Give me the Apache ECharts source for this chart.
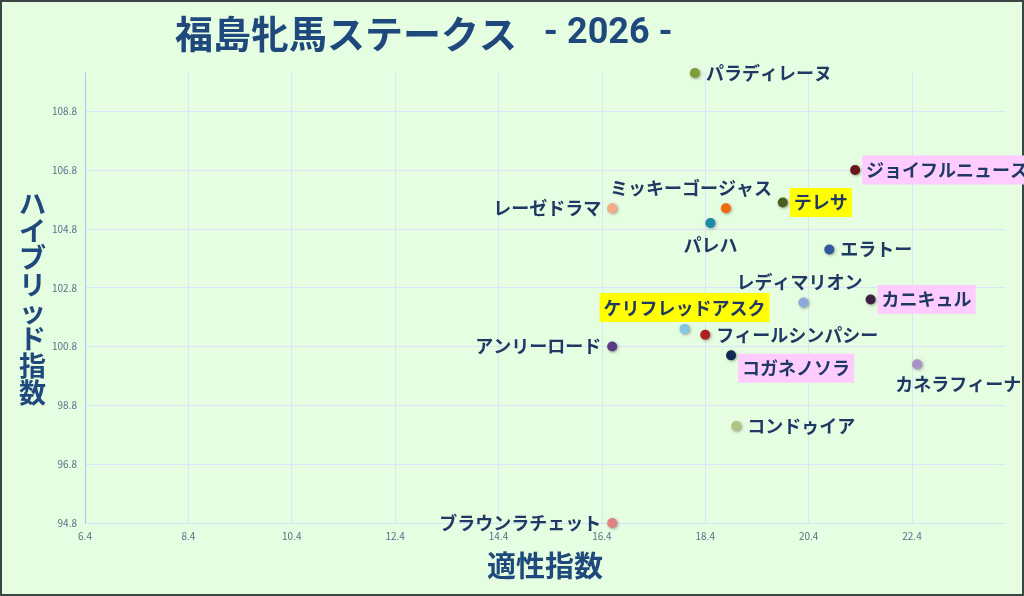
<!DOCTYPE html>
<html>
<head>
<meta charset="utf-8">
<script src="https://cdn.jsdelivr.net/npm/echarts@6/dist/echarts.min.js"></script>
<style>
  html, body { margin: 0; padding: 0; background: #e5fde0; }
  #main { width: 1024px; height: 596px; }
</style>
</head>
<body>
<div id="main"></div>
<script>
// 馬名・適性指数・ハイブリッド指数
var horses = ['パラディレーヌ', 'ジョイフルニュース', 'ミッキーゴージャス', 'レーゼドラマ', 'テレサ', 'パレハ',
    'エラトー', 'レディマリオン', 'カニキュル', 'ケリフレッドアスク', 'フィールシンパシー', 'アンリーロード',
    'コガネノソラ', 'カネラフィーナ', 'コンドゥイア', 'ブラウンラチェット'];
var tekisei = [18.2, 21.3, 18.8, 16.6, 19.9, 18.5, 20.8, 20.3, 21.6, 18.0, 18.4, 16.6, 18.9, 22.5, 19.0, 16.6];
var hybrid = [110.1, 106.8, 105.5, 105.5, 105.7, 105.0, 104.1, 102.3, 102.4, 101.4, 101.2, 100.8, 100.5, 100.2, 98.1, 94.8];
var xTicks = [6.4, 8.4, 10.4, 12.4, 14.4, 16.4, 18.4, 20.4, 22.4];
var yTicks = [94.8, 96.8, 98.8, 100.8, 102.8, 104.8, 106.8, 108.8];

// 見た目 (色・ラベル位置・ずらし・背景)
var look = {
    'パラディレーヌ': { c: '#7f9c3a', pos: 'right' },
    'ジョイフルニュース': { c: '#6a1518', pos: 'right', bg: '#ffccff' },
    'ミッキーゴージャス': { c: '#f26a0c', pos: 'top', d: [-35, 0] },
    'レーゼドラマ': { c: '#f4ab85', pos: 'left' },
    'テレサ': { c: '#4b5e22', pos: 'right', bg: '#ffff00' },
    'パレハ': { c: '#1b8aa6', pos: 'bottom', d: [0, 2] },
    'エラトー': { c: '#2f5a9e', pos: 'right' },
    'レディマリオン': { c: '#8eaadb', pos: 'top', d: [-4, 0] },
    'カニキュル': { c: '#3b2142', pos: 'right', bg: '#ffccff' },
    'ケリフレッドアスク': { c: '#84c7e0', pos: 'top', bg: '#ffff00' },
    'フィールシンパシー': { c: '#b0201e', pos: 'right' },
    'アンリーロード': { c: '#5c3a82', pos: 'left' },
    'コガネノソラ': { c: '#12294f', pos: 'right', bg: '#ffccff', d: [0, 13] },
    'カネラフィーナ': { c: '#a993c4', pos: 'bottom', d: [41, 0] },
    'コンドゥイア': { c: '#b3c383', pos: 'right' },
    'ブラウンラチェット': { c: '#e08282', pos: 'left' }
};

var points = horses.map(function (name, i) {
    var l = look[name];
    return {
        name: name,
        value: [tekisei[i], hybrid[i]],
        itemStyle: { color: l.c },
        label: {
            position: l.pos,
            backgroundColor: l.bg || 'transparent',
            padding: l.bg ? [6, 4, 5, 4] : 0,
            distance: l.bg ? 2 : 6
        }
    };
});

var chartDom = document.getElementById('main');
var myChart = echarts.init(chartDom);
var option;

option = {
    backgroundColor: '#e5fde0',
    textStyle: { fontFamily: 'Noto Sans CJK JP' },
    title: {
        text: '{a|福島牝馬ステークス}{b|   - 2026 -}',
        left: 170,
        top: 10,
        textStyle: {
            rich: {
                a: { fontSize: 38, fontWeight: 'bold', color: '#1f497d', fontFamily: 'Noto Sans CJK JP' },
                b: { fontSize: 36, fontWeight: 'bold', color: '#1f497d', fontFamily: 'Roboto' }
            }
        }
    },
    grid: { left: 85, right: 19, top: 73, bottom: 73 },
    xAxis: {
        type: 'value',
        min: 6.4,
        max: 24.2,
        interval: 2,
        name: '適性指数',
        nameLocation: 'middle',
        nameGap: 28,
        nameTextStyle: { fontSize: 29, fontWeight: 'bold', color: '#1f497d' },
        axisLine: { show: true, lineStyle: { color: '#d6e2f5', width: 1 } },
        axisTick: { show: false },
        axisLabel: {
            fontSize: 10, color: '#5b6f8c', margin: 8, showMaxLabel: false,
            formatter: function (v) { return xTicks.indexOf(+v.toFixed(1)) >= 0 ? v.toFixed(1) : ''; }
        },
        splitLine: { show: true, showMaxLine: false, lineStyle: { color: '#dbe4f7', width: 1 } }
    },
    yAxis: {
        type: 'value',
        min: 94.8,
        max: 110.1,
        interval: 2,
        name: 'ハイブリッド指数'.split('').join('\n'),
        nameLocation: 'middle',
        nameRotate: 0,
        nameGap: 38,
        nameTextStyle: { fontSize: 27, fontWeight: 'bold', color: '#1f497d', lineHeight: 27 },
        axisLine: { show: true, lineStyle: { color: '#a9c2ee', width: 1 } },
        axisTick: { show: false },
        axisLabel: {
            fontSize: 10, color: '#5b6f8c', margin: 8, showMaxLabel: false,
            formatter: function (v) { return yTicks.indexOf(+v.toFixed(1)) >= 0 ? v.toFixed(1) : ''; }
        },
        splitLine: { show: true, showMaxLine: false, lineStyle: { color: '#dbe4f7', width: 1 } }
    },
    graphic: [{
        type: 'rect',
        shape: { x: 1, y: 1, width: 1022, height: 594 },
        style: { fill: 'none', stroke: '#3d4444', lineWidth: 2 },
        silent: true
    }],
    series: [
        {
            type: 'scatter',
            symbolSize: 10,
            itemStyle: {
                opacity: 1,
                shadowBlur: 3,
                shadowColor: 'rgba(0,0,0,0.35)',
                shadowOffsetX: 1,
                shadowOffsetY: 1
            },
            label: {
                show: true,
                formatter: '{b}',
                fontSize: 18,
                fontWeight: 'bold',
                color: '#1f3864'
            },
            labelLayout: function (params) {
                var d = look[horses[params.dataIndex]].d || [0, 0];
                return { dx: d[0], dy: d[1], hideOverlap: false };
            },
            data: points
        }
    ]
};

option && myChart.setOption(option);
</script>
</body>
</html>
